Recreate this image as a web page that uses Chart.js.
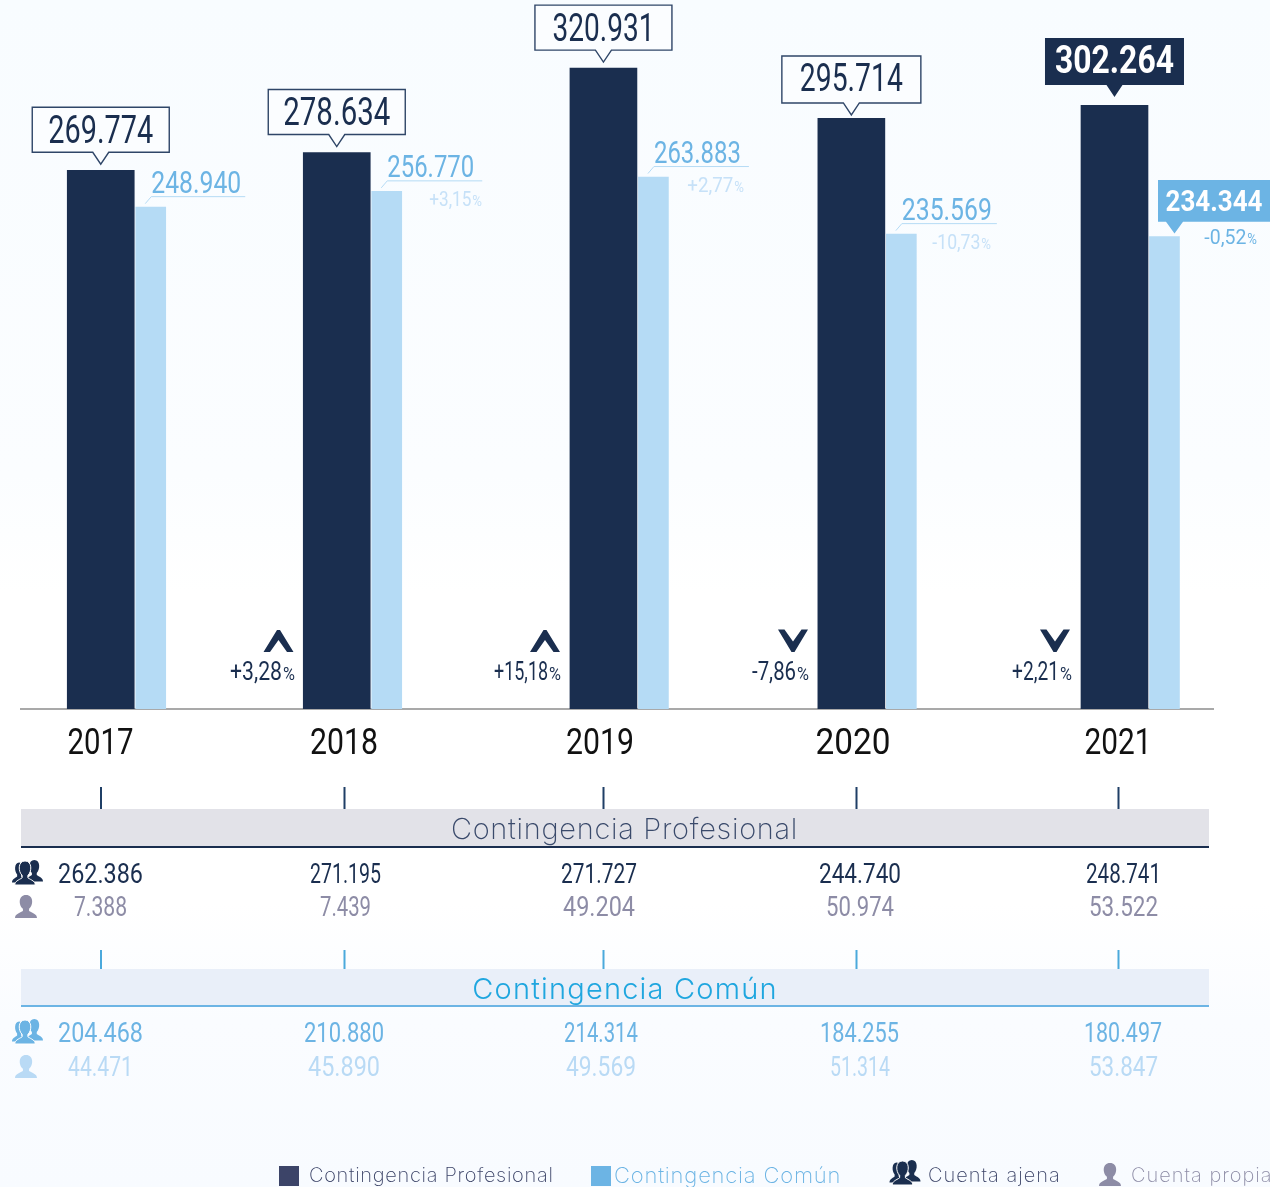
<!DOCTYPE html>
<html lang="es">
<head>
<meta charset="utf-8">
<title>Contingencia Profesional y Común</title>
<script src="https://cdn.jsdelivr.net/npm/chart.js@4"></script>
<style>
html,body{margin:0;padding:0;width:1270px;height:1187px;overflow:hidden;
background:linear-gradient(180deg,#f8fcff 0%,#fbfdff 40%,#ffffff 50%,#ffffff 76%,#fafcff 86%,#f8fbff 100%);}
canvas{display:block}
</style>
</head>
<body>
<canvas id="c" width="1270" height="1187"></canvas>
<script>
// ---- data ----
const years = ['2017','2018','2019','2020','2021'];
const profesional = [269774,278634,320931,295714,302264];
const comun = [248940,256770,263883,235569,234344];
const profesionalChange = [null,3.28,15.18,-7.86,2.21];
const comunChange = [null,3.15,2.77,-10.73,-0.52];
const chevrons = [null,'up','up','down','down'];
const profAjena = [262386,271195,271727,244740,248741];
const profPropia = [7388,7439,49204,50974,53522];
const comunAjena = [204468,210880,214314,184255,180497];
const comunPropia = [44471,45890,49569,51314,53847];
const legendLabels = ['Contingencia Profesional','Contingencia Común','Cuenta ajena','Cuenta propia'];
const sectionTitles = ['Contingencia Profesional','Contingencia Común'];

// ---- layout (not data) ----
const barSlots = [0.001,0.932,1.984,2.962,4.0];   // irregular spacing of the year groups along x
const lightOffset = 0.1972;
const tickSlots = [0,0.9606,1.9704,2.9684,4.0138];
const NARROW = '"Roboto"';
const fmt = v => String(v).replace(/\B(?=(\d{3})+$)/g,'.');
const pct = v => (v>0?'+':'-') + Math.abs(v).toFixed(2).replace('.',',');

const C = {dark:'#1a2e4f',light:'#b5dbf5',mid:'#6cb4e4',pale:'#b9daf5',paler:'#c6e1f8',gray:'#8d8ca6',
  legendDark:'#3c4468',band1:'#e2e2e8',band2:'#e9eff9',tick1:'#1f3f66',tick2:'#4ba9dc',title1:'#3a4a6b',title2:'#1fa6df'};

function text(ctx,s,x,y,font,color,align,maxW,spacing){
  ctx.font=font;ctx.fillStyle=color;ctx.textAlign=align||'center';ctx.textBaseline='alphabetic';
  ctx.letterSpacing=(spacing||0)+'px';
  if(maxW) ctx.fillText(s,x,y,maxW); else ctx.fillText(s,x,y);
  ctx.letterSpacing='0px';
}
function percent(ctx,v,right,base,size,color,numW){
  const pw=size*0.46;
  text(ctx,'%',right,base,`400 ${size*0.68}px ${NARROW}`,color,'right',pw);
  text(ctx,pct(v),right-pw-1,base,`400 ${size}px ${NARROW}`,color,'right',numW);
}
function personPath(ctx,cx,top,w,h){
  ctx.beginPath();
  ctx.moveTo(cx-w*0.5,top+h);
  ctx.bezierCurveTo(cx-w*0.5,top+h*0.84,cx-w*0.32,top+h*0.8,cx-w*0.14,top+h*0.7);
  ctx.lineTo(cx-w*0.14,top+h*0.6);
  ctx.bezierCurveTo(cx-w*0.34,top+h*0.45,cx-w*0.36,top,cx,top);
  ctx.bezierCurveTo(cx+w*0.36,top,cx+w*0.34,top+h*0.45,cx+w*0.14,top+h*0.6);
  ctx.lineTo(cx+w*0.14,top+h*0.7);
  ctx.bezierCurveTo(cx+w*0.32,top+h*0.8,cx+w*0.5,top+h*0.84,cx+w*0.5,top+h);
  ctx.closePath();
}
function person(ctx,cx,top,w,h,color){
  personPath(ctx,cx,top,w,h);ctx.fillStyle=color;ctx.fill();
}
function people(ctx,cx,top,w,h,color){
  person(ctx,cx+w*0.22,top,w*0.56,h*0.86,color);
  person(ctx,cx-w*0.27,top+h*0.1,w*0.46,h*0.8,color);
  personPath(ctx,cx-w*0.08,top+h*0.04,w*0.66,h*0.96);
  ctx.fillStyle=color;ctx.fill();
  ctx.lineWidth=1;ctx.strokeStyle='#fff';ctx.stroke();
}

const annotations = {
  id:'annotations',
  afterDraw(chart){
    const ctx=chart.ctx, dark=chart.getDatasetMeta(0).data, light=chart.getDatasetMeta(1).data;
    const xs=chart.scales.x;
    ctx.save();
    // year labels at the axis ticks
    const yearW=[66,68,68,75,67];
    xs.ticks.forEach((t,i)=>text(ctx,years[i],xs.getPixelForValue(t.value),754,`400 36px ${NARROW}`,'#111','center',yearW[i]));
    // callouts above the dark bars
    const calloutNudge=[0,0,0,2.5,-2.4], calloutW=[105,107,102,103,119];
    dark.forEach((b,i)=>{
      const c=b.x, last=i===4, big=i>=3;
      const bottom=b.y-18+calloutNudge[i], h=big?47:45, hw=big?69.5:68.5, tip=bottom+12;
      ctx.beginPath();
      ctx.moveTo(c-hw,bottom-h);ctx.lineTo(c+hw,bottom-h);ctx.lineTo(c+hw,bottom);
      ctx.lineTo(c+8,bottom);ctx.lineTo(c,tip);ctx.lineTo(c-8,bottom);ctx.lineTo(c-hw,bottom);ctx.closePath();
      ctx.fillStyle=last?C.dark:'#fbfdff';ctx.fill();
      if(!last){ctx.lineWidth=1.4;ctx.strokeStyle='#2f4668';ctx.stroke();}
      text(ctx,fmt(profesional[i]),c,bottom-(big?11:9)-0.5,`${last?700:400} 38px ${NARROW}`,last?'#fff':C.dark,'center',calloutW[i]);
    });
    // labels of the light bars
    light.forEach((b,i)=>{
      const c=b.x, top=b.y;
      if(i<4){
        const ly=top-10.5, endX=c+(i===0?94.5:95.5);
        ctx.beginPath();ctx.moveTo(c-5.5,top-3.5);ctx.lineTo(c+0.5,ly);ctx.lineTo(endX,ly);
        ctx.lineWidth=1;ctx.strokeStyle=C.light;ctx.stroke();
        text(ctx,fmt(comun[i]),c+0.5,ly-3.5,`400 31px ${NARROW}`,C.mid,'left',i===0?90:87+(i===3?3:0));
        if(comunChange[i]!==null){
          const right=[0,482,744,991][i];
          percent(ctx,comunChange[i],right,ly+25,21,C.paler,i===3?48:i===1?42:46);
        }
      } else {
        ctx.beginPath();
        ctx.moveTo(1158,180);ctx.lineTo(1270,180);ctx.lineTo(1270,221.7);ctx.lineTo(1183,221.7);
        ctx.lineTo(1174.5,233.5);ctx.lineTo(1166,221.7);ctx.lineTo(1158,221.7);ctx.closePath();
        ctx.fillStyle=C.mid;ctx.fill();
        text(ctx,fmt(comun[i]),1214,211,`700 30px ${NARROW}`,'#fff','center',97);
        percent(ctx,comunChange[i],1257,244,21,C.mid,42);
      }
    });
    // year-on-year change with chevrons
    const chevX=[0,278.5,545,793,1055], pctRight=[0,295,561,809,1072], pctW=[0,52,54,44,47];
    chevrons.forEach((d,i)=>{
      if(!d) return;
      const x=chevX[i];
      ctx.beginPath();
      if(d==='up'){ctx.moveTo(x-15,652);ctx.lineTo(x-8.5,652);ctx.lineTo(x,640);ctx.lineTo(x+8.5,652);ctx.lineTo(x+15,652);ctx.lineTo(x+1.5,630);ctx.lineTo(x-1.5,630);}
      else{ctx.moveTo(x-15,629.5);ctx.lineTo(x-8.5,629.5);ctx.lineTo(x,641.5);ctx.lineTo(x+8.5,629.5);ctx.lineTo(x+15,629.5);ctx.lineTo(x+1.5,652);ctx.lineTo(x-1.5,652);}
      ctx.closePath();ctx.fillStyle=C.dark;ctx.fill();
      percent(ctx,profesionalChange[i],pctRight[i],679.5,26,C.dark,pctW[i]);
    });
    // connector ticks above both bands
    const connectX=[101,344.5,603.5,856.5,1118.5];
    connectX.forEach(x=>{
      ctx.fillStyle=C.tick1;ctx.fillRect(x-1,787,2,22);
      ctx.fillStyle=C.tick2;ctx.fillRect(x-1,950,2,19);
    });
    // section bands
    ctx.fillStyle=C.band1;ctx.fillRect(21,809,1188,37);
    ctx.fillStyle=C.dark;ctx.fillRect(21,846,1188,2);
    ctx.fillStyle=C.band2;ctx.fillRect(21,969,1188,36);
    ctx.fillStyle=C.mid;ctx.fillRect(21,1005,1188,2);
    text(ctx,sectionTitles[0],624.5,839,'200 29px Inter',C.title1,'center',351,0.7);
    text(ctx,sectionTitles[1],625,999,'300 29px Inter',C.title2,'center',308,1.2);
    // rows
    const rows=[
      [profAjena,[100.5,345.5,599,860,1123.5],[85,71,76,82,75],882.7,C.dark],
      [profPropia,[100.5,345.5,599,860,1123.5],[53,51,72,68,69],916.2,C.gray],
      [comunAjena,[100.5,344,601,859.5,1123],[85,80,74,79,78],1042.2,C.mid],
      [comunPropia,[100.5,344,601,860,1123.5],[65,72,70,60,69],1076.2,C.pale]
    ];
    rows.forEach(([vals,px,ws,base,col])=>vals.forEach((v,i)=>
      text(ctx,fmt(v),px[i],base,`400 28px ${NARROW}`,col,'center',ws[i])));
    // row icons
    people(ctx,27.5,860,31,25,C.dark);
    person(ctx,26,895,22,23,C.gray);
    people(ctx,27.5,1019,31,25,C.mid);
    person(ctx,26,1055,22,23,C.pale);
    // legend
    ctx.fillStyle=C.legendDark;ctx.fillRect(279,1166,20,20);
    text(ctx,legendLabels[0],309,1182,'200 20px Inter',C.legendDark,'left',249,0.7);
    ctx.fillStyle=C.mid;ctx.fillRect(591,1166,20,20);
    text(ctx,legendLabels[1],614,1182.5,'200 22px Inter','#6cb4e4','left',229,0.8);
    people(ctx,905,1160,31,25,C.dark);
    text(ctx,legendLabels[2],928,1182,'200 20px Inter',C.legendDark,'left',134,1);
    person(ctx,1110,1163,22,23,C.gray);
    text(ctx,legendLabels[3],1131,1182,'200 20px Inter',C.gray,'left',undefined,1);
    ctx.restore();
  }
};

new Chart(document.getElementById('c'),{
  type:'bar',
  data:{datasets:[
    {label:'Contingencia Profesional',backgroundColor:C.dark,barThickness:67,grouped:false,yAxisID:'y',
     data:profesional.map((v,i)=>({x:barSlots[i],y:v}))},
    {label:'Contingencia Común',backgroundColor:C.light,barThickness:30,grouped:false,yAxisID:'y2',
     data:comun.map((v,i)=>({x:barSlots[i]+lightOffset,y:v}))}
  ]},
  plugins:[annotations],
  options:{
    responsive:false,animation:false,
    layout:{padding:{left:21,right:57,top:0,bottom:0}},
    plugins:{legend:{display:false},tooltip:{enabled:false},title:{display:false}},
    scales:{
      x:{type:'linear',offset:false,min:-0.3136,max:4.3886,
        grid:{display:false,drawTicks:false},
        border:{display:true,color:'#a9a9a9',width:2},
        afterFit(s){s.height=478;},
        afterBuildTicks(s){s.ticks=tickSlots.map(v=>({value:v}));},
        ticks:{display:false,autoSkip:false,callback(v,i){return years[i];}}
      },
      y:{display:false,min:0,max:355030},
      y2:{display:false,min:0,max:351700}
    }
  }
});
</script>
</body>
</html>
